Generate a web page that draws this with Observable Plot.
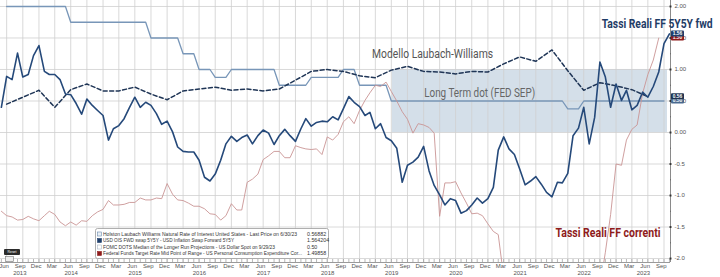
<!DOCTYPE html>
<html>
<head>
<meta charset="utf-8">
<script src="https://cdn.jsdelivr.net/npm/d3@7"></script>
<script src="https://cdn.jsdelivr.net/npm/@observablehq/plot@0.6"></script>
<style>
  html, body { margin: 0; padding: 0; background: #fff; }
  #chart svg { display: block; }
</style>
</head>
<body>
<div id="chart"></div>
<script>
// Monthly observations (month-end), first value = May 2013.
// USD OIS 5Y5Y forward minus USD inflation swap 5Y5Y forward
const realFwd5y5y = [
  0.40, 0.89, 0.84, 1.26, 0.88, 0.92, 1.22, 1.38, 0.97, 0.92,
  0.92, 0.84, 0.61, 0.60, 0.46, 0.29, 0.53, 0.43, 0.35, 0.27,
  -0.12, 0.06, 0.11, 0.22, 0.40, 0.56, 0.40, 0.48, 0.43, 0.30,
  0.13, 0.18, 0.01, -0.23, -0.30, -0.31, -0.31, -0.44, -0.71, -0.77,
  -0.66, -0.44, -0.18, -0.06, -0.14, -0.08, -0.04, -0.18, -0.05, 0.04,
  -0.01, -0.19, -0.05, 0.05, -0.05, -0.14, 0.06, 0.22, 0.10, 0.16,
  0.18, 0.17, 0.25, 0.20, 0.38, 0.57, 0.48, 0.41, 0.27, 0.32,
  0.06, 0.14, -0.08, -0.13, -0.25, -0.79, -0.52, -0.47, -0.39, -0.22,
  -0.61, -0.84, -0.99, -1.15, -1.05, -1.08, -1.28, -1.24, -1.15, -1.04,
  -1.12, -1.05, -0.87, -0.28, -0.07, -0.26, -0.35, -0.58, -0.83, -0.77,
  -0.70, -0.82, -0.95, -1.02, -0.79, -0.80, -0.65, -0.05, 0.07, 0.40,
  -0.18, 0.24, 1.12, 0.88, 0.40, 0.77, 0.51, 0.67, 0.36, 0.43,
  0.64, 0.56, 0.73, 0.96, 1.41, 1.564204
];

// Fed funds target mid point minus core PCE, same monthly calendar
const realFedFunds = [
  -1.25, -1.32, -1.34, -1.39, -1.38, -1.33, -1.37, -1.40, -1.32, -1.25,
  -1.30, -1.42, -1.48, -1.42, -1.47, -1.40, -1.41, -1.32, -1.26, -1.22,
  -1.08, -1.15, -1.15, -1.14, -1.11, -1.11, -1.04, -1.07, -1.07, -1.04,
  -1.05, -0.81, -0.98, -1.07, -1.08, -1.12, -1.17, -1.17, -1.21, -1.29,
  -1.30, -1.39, -1.32, -1.13, -1.23, -1.23, -0.79, -0.74, -0.66, -0.43,
  -0.37, -0.30, -0.30, -0.40, -0.40, -0.21, -0.24, -0.26, -0.27, -0.26,
  -0.35, -0.07, -0.12, -0.03, 0.17, 0.25, 0.14, 0.35, 0.51, 0.63,
  0.75, 0.73, 0.80, 0.65, 0.50, 0.33, 0.21, -0.01, 0.14, 0.12,
  0.08, -0.01, -1.33, -0.80, -0.80, -0.78, -0.96, -1.12, -1.29, -1.28,
  -1.32, -1.45, -1.57, -1.62, -2.30, -3.00, -3.40, -3.50, -3.60, -3.50,
  -3.60, -4.00, -4.60, -4.90, -5.10, -4.60, -4.00, -3.60, -3.30, -2.90,
  -3.10, -2.90, -2.45, -1.90, -1.30, -0.50, -0.52, -0.12, 0.05, 0.12,
  0.62, 0.92, 1.15, 1.49858
];

// Holston-Laubach-Williams natural rate, quarterly from Q2 2013
const lwRstar = [
  0.45, 0.56, 0.67, 0.40, 0.68, 0.77, 0.66, 0.66, 0.72, 0.61,
  0.52, 0.66, 0.69, 0.72, 0.67, 0.69, 0.66, 0.69, 0.83, 0.97,
  1.00, 0.97, 0.90, 0.87, 0.99, 1.05, 0.97, 0.96, 0.93, 0.97,
  0.96, 1.09, 1.20, 1.13, 1.31, 0.98, 0.67, 0.79, 0.74, 0.68,
  0.56882
];

// FOMC longer-run median less the 2% target: month-end vertices of the step path
const fomcMonths = [
  "2013-06", "2014-05", "2014-06", "2015-08", "2015-09", "2016-02", "2016-03",
  "2016-05", "2016-06", "2016-08", "2016-09", "2016-11", "2016-12", "2017-08",
  "2017-09", "2018-02", "2018-03", "2018-08", "2018-09", "2018-11", "2018-12",
  "2019-05", "2019-06", "2022-02", "2022-03", "2022-05", "2022-06", "2023-09"
];
const fomcValues = [
  2.0, 2.0, 1.75, 1.75, 1.5, 1.5, 1.25,
  1.25, 1.0, 1.0, 0.875, 0.875, 1.0, 1.0,
  0.75, 0.75, 0.875, 0.875, 1.0, 1.0, 0.75,
  0.75, 0.5, 0.5, 0.375, 0.375, 0.5, 0.5
];

// Shaded "long term dot" corridor
const bandDates = ["2019-07-06", "2023-10-20"];
const bandValues = [0, 1];

// Axis labels
const monthNames = ["Jun", "Sep", "Dec", "Mar"];
const years = [2013, 2014, 2015, 2016, 2017, 2018, 2019, 2020, 2021, 2022, 2023];
const yTicks = [2, 1.5, 1, 0.5, 0, -0.5, -1, -1.5, -2];
const yTickLabels = ["2.00", "1.50", "1.00", "0.50", "0.00", "-0.5", "-1.0", "-1.5", "-2.0"];
const yMinor = [1.75, 1.25, 0.75, 0.25, -0.25, -0.75, -1.25, -1.75];

// Legend and end-of-series value tags
const legendNames = [
  "Holston Laubach Williams Natural Rate of Interest United States - Last Price on 6/30/23",
  "USD OIS FWD swap 5Y5Y - USD Inflation Swap Forward 5Y5Y",
  "FOMC DOTS Median of the Longer Run Projections - US Dollar Spot on 9/29/23",
  "Federal Funds Target Rate Mid Point of Range - US Personal Consumption Expenditure Cor..."
];
const legendValues = ["0.56882", "1.564204", "0.50", "1.49858"];
const tagLabels = ["1.50", "1.56", "0.50", "0.56"];
const tagValues = [1.49858, 1.564204, 0.50, 0.56882];

const titleFwd = "Tassi Reali FF 5Y5Y fwd";
const titleSpot = "Tassi Reali FF correnti";
const labelLW = "Modello Laubach-Williams";
const labelDot = "Long Term dot (FED SEP)";

// ---- derived tables ----
const monthEnd = k => new Date(Date.UTC(2013, 5 + k, 0));
const ymEnd = s => { const [y, m] = s.split("-").map(Number); return new Date(Date.UTC(y, m, 0)); };

const fwdData = realFwd5y5y.map((value, k) => ({date: monthEnd(k), value}));
const ffData = realFedFunds.map((value, k) => ({date: monthEnd(k), value}));
const lwData = lwRstar.map((value, q) => ({date: monthEnd(1 + 3 * q), value}));
const fomcData = fomcMonths.map((m, i) => ({date: ymEnd(m), value: fomcValues[i]}));
const band = [{x1: new Date(bandDates[0]), x2: new Date(bandDates[1]), y1: bandValues[0], y2: bandValues[1]}];

const xDomain = [new Date(Date.UTC(2013, 4, 26)), new Date(Date.UTC(2023, 10, 6))];
const yDomain = [-2.063, 2.095];

const quarterTicks = [];
for (let i = 0; ; i++) {
  const label = new Date(Date.UTC(2013, 5 + 3 * i, 15));
  if (label > xDomain[1]) break;
  quarterTicks.push({label, grid: new Date(Date.UTC(2013, 6 + 3 * i, 0)), name: monthNames[i % 4]});
}
const monthTicks = d3.range(0, 126).map(monthEnd);
const yearLabels = years.map(y => {
  const a = Math.max(Date.UTC(y, 0, 1), +xDomain[0]);
  const b = Math.min(Date.UTC(y + 1, 0, 1), +xDomain[1]);
  return {year: String(y), date: new Date((a + b) / 2)};
});

const axisFont = "Liberation Sans, Arial, sans-serif";
const narrowFont = "Liberation Sans Narrow, Roboto, Liberation Sans, sans-serif";

const chart = Plot.plot({
  width: 720,
  height: 277,
  marginLeft: 0,
  marginRight: 50,
  marginTop: 0,
  marginBottom: 15,
  x: {type: "utc", domain: xDomain, axis: null},
  y: {domain: yDomain, axis: null},
  style: {fontFamily: axisFont, background: "#fff", overflow: "visible"},
  marks: [
    Plot.rect(band, {x1: "x1", x2: "x2", y1: "y1", y2: "y2", fill: "#d4dfe9"}),
    Plot.ruleY(yTicks, {stroke: "#cfcfcf", strokeOpacity: 0.8, strokeWidth: 1}),
    Plot.ruleX(quarterTicks, {x: "grid", stroke: "#cfcfcf", strokeOpacity: 0.8, strokeWidth: 1}),
    Plot.line(fomcData, {x: "date", y: "value", stroke: "#7896b8", strokeWidth: 1.3}),
    Plot.line(ffData, {x: "date", y: "value", stroke: "#c99494", strokeWidth: 0.9, clip: true}),
    Plot.line(lwData, {x: "date", y: "value", stroke: "#1f3556", strokeWidth: 1.5, strokeDasharray: "4,2.5"}),
    Plot.line(fwdData, {x: "date", y: "value", stroke: "#25497a", strokeWidth: 1.6}),
    Plot.ruleY([yDomain[0]], {stroke: "#9a9a9a", strokeWidth: 1}),
    Plot.ruleX([xDomain[1]], {stroke: "#8a8a8a", strokeWidth: 1}),
    Plot.ruleX(monthTicks, {insetTop: 259, stroke: "#888", strokeWidth: 0.6}),
    Plot.text(quarterTicks, {x: "label", text: "name", frameAnchor: "bottom", dy: 5, fontSize: 6, fill: "#555"}),
    Plot.text(yearLabels, {x: "date", text: "year", frameAnchor: "bottom", dy: 12, fontSize: 6, fill: "#555"}),
    Plot.dot(yTicks, {y: d => d, frameAnchor: "right", r: 1.1, symbol: "square", fill: "#333"}),
    Plot.dot(yMinor, {y: d => d, frameAnchor: "right", r: 0.6, symbol: "square", fill: "#666"}),
    Plot.text(yTicks, {y: d => d, text: (d, i) => yTickLabels[i], frameAnchor: "right", dx: 4, textAnchor: "start", fontSize: 6, fill: "#555"}),
    Plot.text([labelLW], {x: () => new Date("2019-03-12"), y: () => 1.25, text: d => d, textAnchor: "start",
      fontFamily: narrowFont, fontSize: 12.5, fill: "#555"}),
    Plot.text([labelDot], {x: () => new Date("2020-01-03"), y: () => 0.62, text: d => d, textAnchor: "start",
      fontFamily: narrowFont, fontSize: 12.5, fill: "#666"}),
    Plot.text([titleFwd], {x: () => new Date("2022-10-10"), y: () => 1.73, text: d => d, textAnchor: "start",
      fontFamily: narrowFont, fontSize: 13.5, fontWeight: "bold", fill: "#1f3c66"}),
    Plot.text([titleSpot], {x: () => new Date("2022-01-20"), y: () => -1.59, text: d => d, textAnchor: "start",
      fontFamily: narrowFont, fontSize: 13.5, fontWeight: "bold", fill: "#8e1b1b"})
  ]
});

document.getElementById("chart").appendChild(chart);

// squeeze the annotation texts to their condensed widths
const fitWidths = new Map([[titleFwd, 111], [titleSpot, 105], [labelLW, 121], [labelDot, 111]]);
chart.querySelectorAll("text").forEach(t => {
  const w = fitWidths.get(t.textContent);
  if (w) { t.setAttribute("textLength", w); t.setAttribute("lengthAdjust", "spacingAndGlyphs"); }
});

const svg = d3.select(chart);
const yPix = d3.scaleLinear(yDomain, [262, 0]);

// value tags on the right axis
const tagFills = ["#8e1b1b", "#1f3f6b", "#4a6a90", "#1e3350"];
const tags = svg.append("g").attr("text-anchor", "middle");
tagValues.forEach((v, i) => {
  const cy = yPix(v);
  tags.append("rect").attr("x", 671).attr("y", cy - 3).attr("width", 13).attr("height", 6)
    .attr("rx", 1).attr("fill", tagFills[i]);
  tags.append("text").attr("x", 677.5).attr("y", cy).attr("dy", "0.35em")
    .attr("font-size", 4.8).attr("font-weight", "bold")
    .attr("font-family", axisFont).attr("fill", "#fff").text(tagLabels[i]);
});

// legend box
const legend = svg.append("g").attr("text-anchor", "start");
legend.append("rect").attr("x", 95.5).attr("y", 228.5).attr("width", 233).attr("height", 30)
  .attr("rx", 2).attr("fill", "#fff").attr("stroke", "#9a9a9a").attr("stroke-width", 0.8);
const swatchFill = ["#e9eff5", "#1f3f6b", "#ffffff", "#8e1b1b"];
const swatchStroke = ["#6d8cb0", "#1f3f6b", "#a8b6c6", "#8e1b1b"];
const legendWidths = [194, 131, 172, 199];
legendNames.forEach((name, i) => {
  const cy = 234 + i * 6.5;
  legend.append("rect").attr("x", 97.5).attr("y", cy - 2).attr("width", 4).attr("height", 4)
    .attr("fill", swatchFill[i]).attr("stroke", swatchStroke[i]).attr("stroke-width", 0.6);
  legend.append("text").attr("x", 103).attr("y", cy).attr("dy", "0.35em")
    .attr("text-anchor", "start")
    .attr("font-size", 5.3).attr("font-family", axisFont).attr("fill", "#333")
    .attr("textLength", legendWidths[i]).attr("lengthAdjust", "spacingAndGlyphs").text(name);
  legend.append("text").attr("x", 307).attr("y", cy).attr("dy", "0.35em")
    .attr("text-anchor", "start")
    .attr("font-size", 5.3).attr("font-family", axisFont).attr("fill", "#333").text(legendValues[i]);
});

// small reset control in the lower-left corner
const ctrl = svg.append("g");
ctrl.append("rect").attr("x", 4).attr("y", 249).attr("width", 16).attr("height", 6).attr("rx", 1).attr("fill", "#2b2b2b");
ctrl.append("text").attr("x", 12).attr("y", 252).attr("dy", "0.35em").attr("text-anchor", "middle")
  .attr("font-size", 3.4).attr("font-family", axisFont).attr("fill", "#fff").text("Reset");
ctrl.append("rect").attr("x", 5.5).attr("y", 256.5).attr("width", 8).attr("height", 5)
  .attr("fill", "#eee").attr("stroke", "#777").attr("stroke-width", 0.6);
</script>
</body>
</html>
